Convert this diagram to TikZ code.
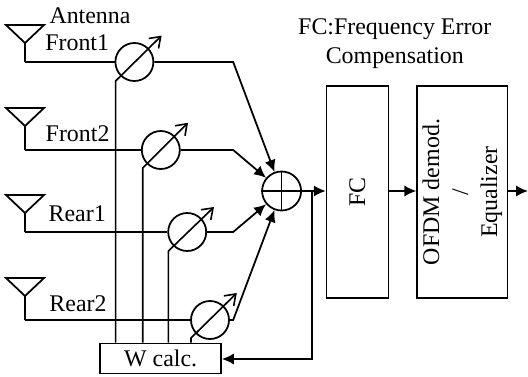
\documentclass[tikz,border=0pt]{standalone}
\usepackage{fontspec}
\setmainfont{Liberation Serif}
\usepackage{xcolor}
\usepackage{tikz}
\usetikzlibrary{calc}
\usetikzlibrary{arrows}
\usetikzlibrary{arrows.meta}
\usetikzlibrary{shapes}
\usetikzlibrary{positioning}
\tikzset{>=latex}
\tikzstyle{wire} = [-, line width=1.25pt, draw=black]
\tikzstyle{feed} = [->, line width=1.25pt, draw=black, >={Latex[length=8.5pt,width=8pt]}]
\tikzstyle{ctrl} = [->, line width=1.15pt, draw=black, >={Straight Barb[length=7pt,width=10pt]}]
\tikzstyle{shifter} = [circle, minimum size=0.95cm, inner sep=0pt, line width=1.25pt, draw=black]
\tikzstyle{blockbox} = [rectangle, inner sep=0pt, line width=1.25pt, draw=black]
\tikzstyle{txt} = [inner sep=0pt, font=\fontsize{17}{20.6}\selectfont]

\begin{document}
\begin{tikzpicture}
\useasboundingbox (0, 0) rectangle (13.2, 9.4);
% antennas
\coordinate (A1L) at (0.15, 8.775);
\coordinate (A1R) at (1.1, 8.775);
\coordinate (A1T) at (0.625, 8.325);
\coordinate (A1B) at (0.625, 7.85);
\coordinate (A2L) at (0.15, 6.7);
\coordinate (A2R) at (1.1, 6.7);
\coordinate (A2T) at (0.625, 6.25);
\coordinate (A2B) at (0.625, 5.65);
\coordinate (A3L) at (0.15, 4.525);
\coordinate (A3R) at (1.1, 4.525);
\coordinate (A3T) at (0.625, 4.075);
\coordinate (A3B) at (0.625, 3.6);
\coordinate (A4L) at (0.15, 2.45);
\coordinate (A4R) at (1.1, 2.45);
\coordinate (A4T) at (0.625, 2);
\coordinate (A4B) at (0.625, 1.4);
\draw [wire] (A1L) -- (A1R) -- (A1T) -- cycle (A1T) -- (A1B);
\draw [wire] (A2L) -- (A2R) -- (A2T) -- cycle (A2T) -- (A2B);
\draw [wire] (A3L) -- (A3R) -- (A3T) -- cycle (A3T) -- (A3B);
\draw [wire] (A4L) -- (A4R) -- (A4T) -- cycle (A4T) -- (A4B);
% weights
\node [shifter] (P1) at (3.36, 7.85) {};
\node [shifter] (P2) at (4.02, 5.65) {};
\node [shifter] (P3) at (4.68, 3.6) {};
\node [shifter] (P4) at (5.25, 1.4) {};
\node [shifter, minimum size=0.975cm] (S) at (7.04, 4.625) {};
\draw [wire] (S.north) -- (S.south);
\draw [wire] (S.west) -- (S.east);
% blocks
\node [blockbox, minimum width=3.02cm, minimum height=0.75cm] (W) at (4.016, 0.44) {};
\node [txt] (Wt) at (4.016, 0.45) {W calc.};
\node [blockbox, minimum width=1.55cm, minimum height=5.3cm] (FC) at (8.94, 4.6) {};
\node [txt, rotate=90] (FCt) at (8.93, 4.6) {FC};
\node [blockbox, minimum width=2.26cm, minimum height=5.3cm] (OF) at (11.56, 4.6) {};
\node [txt, rotate=90, align=center] (OFt) at (11.56, 4.6) {OFDM demod.\\/\\Equalizer};
% texts
\node [txt] (T1) at (2.25, 9) {Antenna};
\node [txt] (T2) at (1.93, 8.325) {Front1};
\node [txt] (T3) at (1.94, 6.05) {Front2};
\node [txt] (T4) at (1.93, 4.05) {Rear1};
\node [txt] (T5) at (1.95, 1.8) {Rear2};
\node [txt, align=center] (T6) at (9.87, 8.3) {FC:Frequency Error\\Compensation};
% signal lines
\coordinate (K1) at (5.83, 7.85);
\coordinate (K2) at (5.83, 5.65);
\coordinate (K3) at (5.83, 3.6);
\coordinate (K4) at (5.83, 1.4);
\draw [wire] (A1B) -- (P1);
\draw [wire] (A2B) -- (P2);
\draw [wire] (A3B) -- (P3);
\draw [wire] (A4B) -- (P4);
\draw [feed] (P1) -- (K1) -- (S);
\draw [feed] (P2) -- (K2) -- (S);
\draw [feed] (P3) -- (K3) -- (S);
\draw [feed] (P4) -- (K4) -- (S);
\coordinate (End) at (13.2, 4.625);
\coordinate (J) at (7.8, 4.625);
\coordinate (Fb) at (7.8, 0.425);
\draw [feed] (S.east) -- (S -| FC.west);
\draw [feed] (S -| FC.east) -- (S -| OF.west);
\draw [feed] (S -| OF.east) -- (End);
\draw [feed] (J) -- (Fb) -- (Fb -| W.east);
% control lines
\coordinate (C1) at (2.89, 7.375);
\coordinate (C2) at (3.57, 5.2);
\coordinate (C3) at (4.21, 3.125);
\coordinate (C4) at (4.775, 0.95);
\coordinate (D1) at (4.04, 8.51);
\coordinate (D2) at (4.7, 6.33);
\coordinate (D3) at (5.35, 4.225);
\coordinate (D4) at (5.92, 2.075);
\draw [ctrl] (C1 |- W.north) -- (C1) -- (D1);
\draw [ctrl] (C2 |- W.north) -- (C2) -- (D2);
\draw [ctrl] (C3 |- W.north) -- (C3) -- (D3);
\draw [ctrl] (C4 |- W.north) -- (C4) -- (D4);
\end{tikzpicture}
\end{document}
